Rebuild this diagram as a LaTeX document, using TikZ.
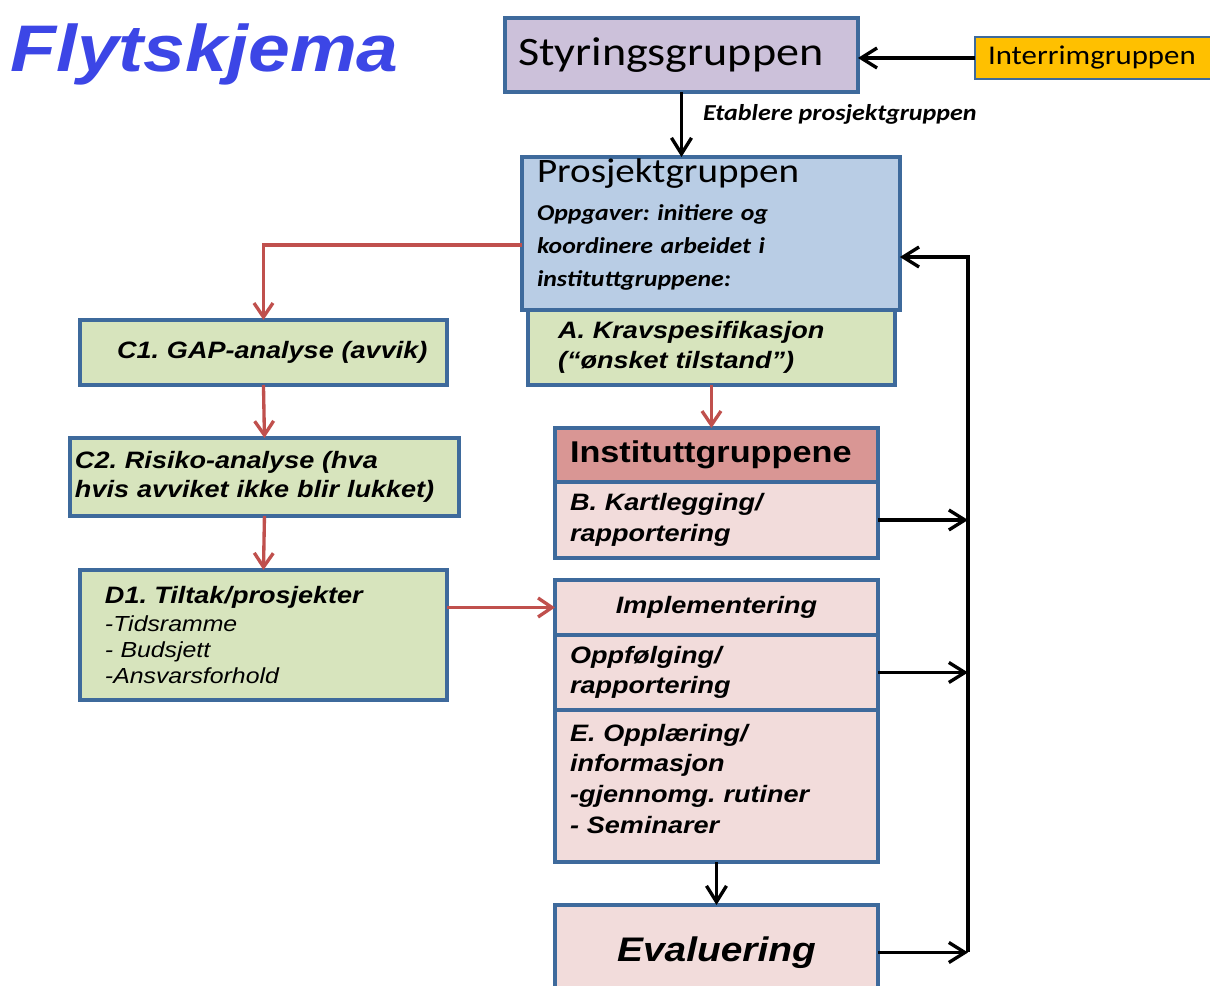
\documentclass[tikz,border=0pt]{standalone}
\usepackage{fontspec}
\setmainfont{Liberation Sans}[FakeStretch=1.14]
\newfontfamily\calfont{Carlito}[FakeStretch=1.14]
\usepackage{tikz}
\usetikzlibrary{arrows.meta, positioning}
\frenchspacing
\definecolor{fsline}{HTML}{3E6A9C}
\definecolor{fstitle}{HTML}{3C46E6}
\definecolor{fsstyrfill}{HTML}{CCC1DA}
\definecolor{fsintfill}{HTML}{FFC000}
\definecolor{fsprosfill}{HTML}{B9CDE5}
\definecolor{fsgreenfill}{HTML}{D7E4BD}
\definecolor{fsinstfill}{HTML}{D99694}
\definecolor{fspinkfill}{HTML}{F2DCDB}
\definecolor{fsred}{HTML}{C0504D}
\tikzset{
  fsbox/.style   = {draw=fsline, line width=1.9pt, rectangle, anchor=north west,
                     inner ysep=0pt, outer sep=0pt, align=left},
  fsstyr/.style  = {fsbox, fill=fsstyrfill, inner xsep=0.26cm,
                     font=\calfont\fontsize{23}{27}\selectfont},
  fsint/.style   = {fsbox, fill=fsintfill, line width=1.4pt, inner xsep=0.26cm,
                     font=\calfont\fontsize{15.4}{18}\selectfont},
  fspros/.style  = {fsbox, fill=fsprosfill, inner xsep=0.3cm,
                     font=\calfont\bfseries\itshape\fontsize{12.9}{18.7}\selectfont},
  fsgreen/.style = {fsbox, fill=fsgreenfill,
                     font=\bfseries\itshape\fontsize{13.5}{17}\selectfont},
  fspink/.style  = {fsbox, fill=fspinkfill, inner xsep=0.3cm,
                     minimum width=6.46cm, text width=5.86cm,
                     font=\bfseries\itshape\fontsize{13.5}{17.4}\selectfont},
  fsinst/.style  = {fspink, fill=fsinstfill,
                     font=\bfseries\fontsize{17.1}{20}\selectfont},
  fsttl/.style   = {font=\bfseries\itshape\fontsize{37.5}{40}\selectfont,
                     text=fstitle, inner sep=0pt},
  fslbl/.style   = {font=\calfont\bfseries\itshape\fontsize{13}{15}\selectfont,
                     inner sep=0pt},
  fsarr/.style   = {draw=black, line width=1.9pt,
                     -{Straight Barb[length=3.2mm, width=4mm]}},
  fsredarr/.style = {draw=fsred, line width=1.9pt,
                     -{Straight Barb[length=2.8mm, width=3.8mm]}},
}
\begin{document}
\begin{tikzpicture}[x=0.02cm, y=-0.02cm]
  \useasboundingbox (0,0) rectangle (1210,986);
  \clip (0,0) rectangle (1210,986);

  \node[fsttl, anchor=base west] (ttl) at (10,72) {Flytskjema};

  % top row
  \node[fsstyr, minimum width=7.06cm, minimum height=1.48cm, text width=6.54cm]
       (styr) at (505,18) {Styringsgruppen};
  \node[fsint, minimum width=5cm, minimum height=0.84cm, text width=4.48cm]
       (int) at (975,37) {Interrimgruppen};

  % project group with requirement box below
  \node[fspros, minimum width=7.56cm, minimum height=3.06cm, text width=6.96cm]
       (pros) at (522,157)
       {{\mdseries\upshape\fontsize{19.5}{22}\selectfont Prosjektgruppen}\\[3.3pt]
        Oppgaver: initiere og\\koordinere arbeidet i\\instituttgruppene:\\[-6pt]\mbox{}};
  \node[fsgreen, minimum width=7.34cm, minimum height=1.5cm, inner xsep=0.6cm,
        text width=6.14cm]
       (krav) at (528,310) {A. Kravspesifikasjon\\(“ønsket tilstand”)};

  % left column
  \node[fsgreen, minimum width=7.34cm, minimum height=1.3cm, inner xsep=0.3cm,
        text width=6.74cm, align=center]
       (c1) at (80,320) {\hspace*{0.35cm}C1. GAP-analyse (avvik)};
  \node[fsgreen, minimum width=7.78cm, minimum height=1.56cm, inner xsep=0.1cm,
        text width=7.58cm, font=\bfseries\itshape\fontsize{13.5}{16.4}\selectfont]
       (c2) at (70,438) {C2. Risiko-analyse (hva\\hvis avviket ikke blir lukket)};
  \node[fsgreen, minimum width=7.34cm, minimum height=2.6cm, inner xsep=0.5cm,
        text width=6.34cm, font=\itshape\fontsize{12.4}{15}\selectfont]
       (d1) at (80,570)
       {{\bfseries\fontsize{13.5}{17}\selectfont D1. Tiltak/prosjekter}\\[1pt]
        -Tidsramme\\- Budsjett\\-Ansvarsforhold};

  % institute groups
  \node[fsinst, minimum height=1.08cm] (inst) at (555,428) {Instituttgruppene};
  \node[fspink, minimum height=1.52cm, below=0pt of inst] (kart)
       {B. Kartlegging/\\rapportering};
  \node[fspink, minimum height=1.1cm, align=center] (impl) at (555,580)
       {Implementering};
  \node[fspink, minimum height=1.5cm, below=0pt of impl] (oppf)
       {Oppfølging/\\rapportering};
  \node[fspink, minimum height=3.04cm, below=0pt of oppf] (oppl)
       {E. Opplæring/\\informasjon\\-gjennomg. rutiner\\- Seminarer\\[-9pt]\mbox{}};
  \node[fspink, minimum height=1.9cm, align=center,
        font=\bfseries\itshape\fontsize{19.4}{22}\selectfont]
       (eval) at (555,905) {Evaluering};

  % feedback rail
  \coordinate (railtop) at (968,257);
  \coordinate (railbot) at (eval.east -| railtop);
  \coordinate (redtap) at (500,245);

  % connectors
  \draw[fsarr] (int.west) -- (int.west -| styr.east);
  \draw[fsarr] (styr.south) -- (styr.south |- pros.north)
       node[fslbl, pos=0.35, right=0.4cm] {Etablere prosjektgruppen};
  \draw[fsredarr] (pros.west |- redtap) -| (c1.north);
  \draw[fsredarr] (c1.south) -- (c2.north);
  \draw[fsredarr] (c2.south) -- (d1.north);
  \draw[fsredarr] (d1.east |- impl.west) -- (impl.west);
  \draw[fsredarr] (krav.south) -- (krav.south |- inst.north);
  \draw[fsarr] (oppl.south) -- (eval.north);
  \draw[fsarr] (kart.east) -- (kart.east -| railtop);
  \draw[fsarr] (oppf.east) -- (oppf.east -| railtop);
  \draw[fsarr] (eval.east) -- (railbot);
  \draw[fsarr] (railbot) -- (railtop) -- (railtop -| pros.east);
\end{tikzpicture}
\end{document}
